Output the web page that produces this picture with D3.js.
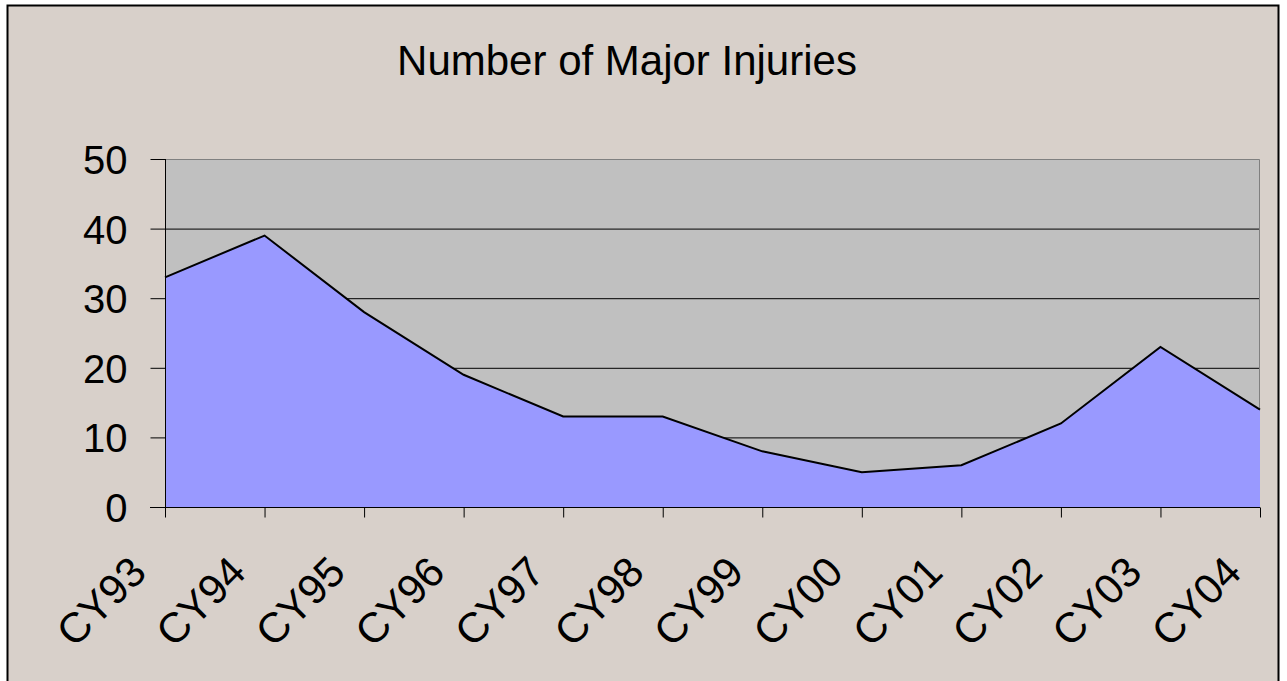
<!DOCTYPE html>
<html>
<head>
<meta charset="utf-8">
<script src="https://cdn.jsdelivr.net/npm/d3@7"></script>
<style>
  body { margin: 0; background: #ffffff; }
  text { font-family: "Liberation Sans", Arial, sans-serif; }
</style>
</head>
<body>
<div id="chart"></div>
<script>
const years = ["CY93", "CY94", "CY95", "CY96", "CY97", "CY98", "CY99", "CY00", "CY01", "CY02", "CY03", "CY04"];
const injuries = [33, 39, 28, 19, 13, 13, 8, 5, 6, 12, 23, 14];
const yTicks = [0, 10, 20, 30, 40, 50];

let dim = { width: 1287, height: 681 };
let plot = { left: 165, top: 159, right: 1260, bottom: 507 };
const font = "Liberation Sans, Arial, sans-serif";

let svg = d3.select("#chart").append("svg")
  .attr("width", dim.width)
  .attr("height", dim.height);

// chart frame (bottom edge runs past the window)
svg.append("rect")
  .attr("x", 7.5).attr("y", 5.5)
  .attr("width", 1271).attr("height", 690)
  .attr("fill", "#d8d0ca")
  .attr("stroke", "#000")
  .attr("stroke-width", 2);

svg.append("text")
  .attr("x", 627).attr("y", 75)
  .attr("text-anchor", "middle")
  .style("font-size", "42px")
  .text("Number of Major Injuries");

let x = d3.scalePoint().domain(years).range([plot.left, plot.right]);
let y = d3.scaleLinear().domain([0, 50]).range([plot.bottom, plot.top]);

svg.append("rect")
  .attr("x", plot.left).attr("y", plot.top)
  .attr("width", plot.right - plot.left).attr("height", plot.bottom - plot.top)
  .attr("fill", "#c0c0c0");

// gridlines
svg.append("g")
  .selectAll("line")
  .data(yTicks.filter((d) => d > 0 && d < 50))
  .join("line")
  .attr("x1", plot.left).attr("x2", plot.right)
  .attr("y1", (d) => y(d) + 0.5).attr("y2", (d) => y(d) + 0.5)
  .attr("stroke", "#000");

// plot border (top and right are grey)
svg.append("path")
  .attr("d", `M${plot.left},${plot.top + 0.5}H${plot.right - 0.5}V${plot.bottom}`)
  .attr("fill", "none")
  .attr("stroke", "#808080");

let area = d3.area()
  .x((d, i) => x(years[i]))
  .y0(y(0))
  .y1((d) => y(d));

let line = d3.line()
  .x((d, i) => x(years[i]))
  .y((d) => y(d));

svg.append("path")
  .datum(injuries)
  .attr("d", area)
  .attr("fill", "#9999ff");

svg.append("path")
  .datum(injuries)
  .attr("d", line)
  .attr("fill", "none")
  .attr("stroke", "#000")
  .attr("stroke-width", 2);

// y axis
let yAxis = svg.append("g")
  .attr("transform", `translate(${plot.left + 0.5},0)`)
  .call(d3.axisLeft(y).tickValues(yTicks).tickSize(15).tickPadding(23));
yAxis.select(".domain").attr("d", `M0,${plot.top}V${plot.bottom}`).attr("stroke", "#000");
yAxis.selectAll(".tick line").attr("stroke", "#000");
yAxis.selectAll("text")
  .style("font-size", "40px")
  .style("font-family", font)
  .attr("fill", "#000")
  .attr("dy", "0.36em");

// x axis
let xAxis = svg.append("g")
  .attr("transform", `translate(0,${plot.bottom + 0.5})`)
  .call(d3.axisBottom(x).tickSize(10).tickSizeOuter(0));
xAxis.select(".domain").attr("d", `M${plot.left - 15},0H${plot.right}`).attr("stroke", "#000");
xAxis.selectAll(".tick line").attr("stroke", "#000");
xAxis.selectAll("text")
  .style("font-size", "42px")
  .style("font-family", font)
  .attr("fill", "#000")
  .attr("text-anchor", "end")
  .attr("y", 0)
  .attr("dy", 0)
  .attr("transform", "translate(-17,67) rotate(-45)");
</script>
</body>
</html>
